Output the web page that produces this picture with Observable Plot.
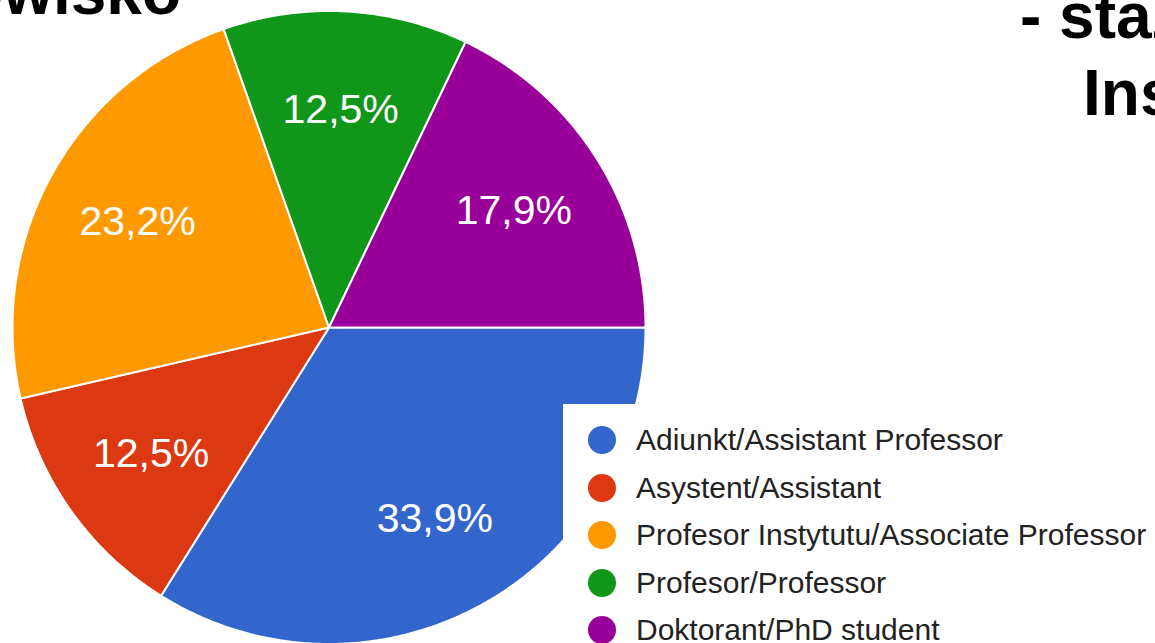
<!DOCTYPE html>
<html>
<head>
<meta charset="utf-8">
<script src="https://cdn.jsdelivr.net/npm/d3@7"></script>
<script src="https://cdn.jsdelivr.net/npm/@observablehq/plot@0.6"></script>
<style>
  html, body { margin: 0; padding: 0; width: 1155px; height: 643px; overflow: hidden; background: #fff; }
  #wrap { position: relative; width: 1155px; height: 643px; overflow: hidden; }
  #chart { position: absolute; left: 0; top: 0; }
  .title { position: absolute; font-family: "Liberation Sans", Arial, sans-serif; font-weight: bold; font-size: 64px; color: #000; white-space: nowrap; line-height: 1; }
  #legend { position: absolute; left: 563px; top: 404px; width: 600px; height: 260px; background: #fff; font-family: "Liberation Sans", Arial, sans-serif; }
  .item { position: absolute; left: 0; height: 30px; }
  .dot { position: absolute; left: 25px; width: 28px; height: 28px; border-radius: 50%; }
  .lab { position: absolute; left: 73px; font-size: 30px; color: #222; white-space: nowrap; line-height: 30px; }
</style>
</head>
<body>
<div id="wrap">
  <div id="chart"></div>
  <div class="title" style="right:974px; top:-40px;">Stanowisko</div>
  <div class="title" style="left:1020px; top:-16px;">- staż</div>
  <div class="title" style="left:1083px; top:61px;">Ins</div>
  <div id="legend"></div>
</div>
<script>
const categories = ["Adiunkt/Assistant Professor", "Asystent/Assistant", "Profesor Instytutu/Associate Professor", "Profesor/Professor", "Doktorant/PhD student"];
const values = [33.9, 12.5, 23.2, 12.5, 17.9];
const colors = ["#3366cc", "#dc3912", "#ff9900", "#109618", "#990099"];

const pie = d3.pie().sort(null).value(d => d.value)
  .startAngle(Math.PI / 2).endAngle(Math.PI / 2 + 2 * Math.PI);
const arcs = pie(categories.map((c, i) => ({category: c, value: values[i]})));

// polygon points for each slice (unit circle)
const pts = [];
arcs.forEach(a => {
  const cat = a.data.category;
  pts.push({category: cat, x: 0, y: 0});
  const n = Math.max(2, Math.ceil((a.endAngle - a.startAngle) / (Math.PI / 360)));
  for (let k = 0; k <= n; k++) {
    const t = a.startAngle + (a.endAngle - a.startAngle) * k / n;
    pts.push({category: cat, x: Math.sin(t), y: Math.cos(t)});
  }
});

const labels = arcs.map(a => {
  const m = (a.startAngle + a.endAngle) / 2;
  return {x: 0.69 * Math.sin(m), y: 0.69 * Math.cos(m), text: a.data.value.toFixed(1).replace(".", ",") + "%"};
});

const cx = 328.5, cy = 327, R = 316.5;
const chart = Plot.plot({
  width: 1155,
  height: 643,
  margin: 0,
  x: {domain: [-1, 1], range: [cx - R, cx + R], axis: null},
  y: {domain: [-1, 1], range: [cy + R, cy - R], axis: null},
  color: {domain: categories, range: colors},
  marks: [
    Plot.line(pts, {x: "x", y: "y", z: "category", fill: "category", stroke: "white", strokeWidth: 2, curve: "linear-closed", strokeLinejoin: "round"}),
    Plot.text(labels, {x: "x", y: "y", text: "text", fill: "white", fontSize: 41, fontFamily: "Liberation Sans, Arial, sans-serif"})
  ]
});
document.getElementById("chart").appendChild(chart);

const legend = document.getElementById("legend");
categories.forEach((c, i) => {
  const item = document.createElement("div");
  item.className = "item";
  item.style.top = (36 - 15 + i * 47.5) + "px";
  const dot = document.createElement("div");
  dot.className = "dot";
  dot.style.background = colors[i];
  dot.style.top = "1px";
  const lab = document.createElement("div");
  lab.className = "lab";
  lab.textContent = c;
  lab.style.top = "0px";
  item.appendChild(dot);
  item.appendChild(lab);
  legend.appendChild(item);
});
</script>
</body>
</html>
